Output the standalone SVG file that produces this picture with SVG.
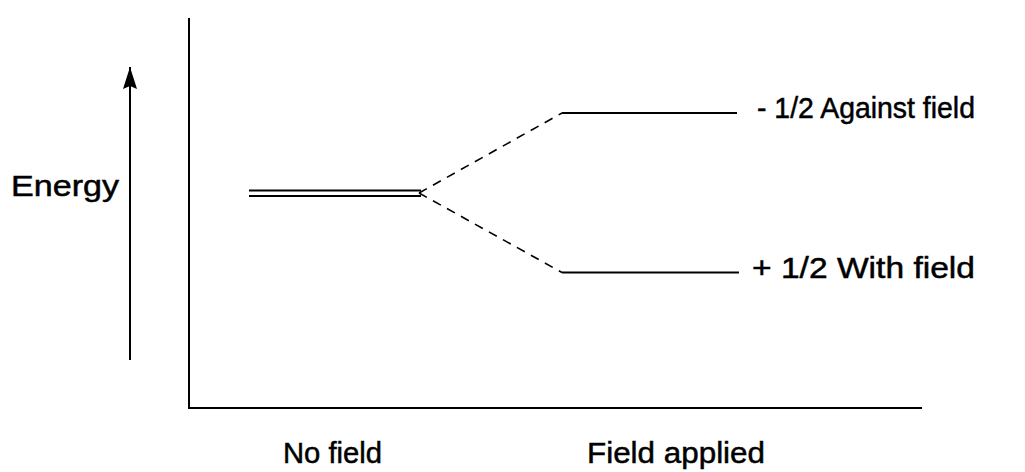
<svg xmlns="http://www.w3.org/2000/svg" width="1025" height="472" viewBox="0 0 1025 472">
  <style>
    .ax { stroke: #000; stroke-width: 2; fill: none; }
    .lvl { stroke: #000; stroke-width: 2; fill: none; }
    .dash { stroke: #000; stroke-width: 1.6; fill: none; stroke-dasharray: 9 7; }
    .lbl { font-family: "Liberation Sans", Arial, sans-serif; font-size: 30px; fill: #000; stroke: #000; stroke-width: 0.5; }
  </style>
  <defs>
    <!-- arrowhead drawn along +x; orient=auto turns it with the line -->
    <marker id="head" markerUnits="userSpaceOnUse" markerWidth="24" markerHeight="16" refX="22" refY="8" orient="auto" viewBox="0 0 24 16">
      <path d="M0 1 L22 8 L0 15 L3 8 Z" fill="#000"/>
    </marker>
  </defs>
  <rect width="1025" height="472" fill="#fff"/>

  <!-- axes -->
  <g id="axes">
    <path class="ax" d="M189 18 V408 H922"/>
  </g>

  <!-- energy arrow and label -->
  <g id="energy">
    <line x1="130" y1="360" x2="130" y2="67" stroke="#000" stroke-width="2" marker-end="url(#head)"/>
    <text class="lbl" x="11" y="196" font-size="31" textLength="108" lengthAdjust="spacingAndGlyphs">Energy</text>
  </g>

  <!-- degenerate level without field -->
  <g id="no-field-level">
    <line class="lvl" x1="249" y1="190.5" x2="421" y2="190.5"/>
    <line class="lvl" x1="249" y1="196" x2="421" y2="196" stroke-width="1.5"/>
  </g>

  <!-- split levels -->
  <g id="upper-level">
    <line class="lvl" x1="562" y1="113" x2="737" y2="113"/>
    <text class="lbl" x="757" y="118" textLength="218" lengthAdjust="spacingAndGlyphs">- 1/2 Against field</text>
  </g>
  <g id="lower-level">
    <line class="lvl" x1="562" y1="272.5" x2="739" y2="272.5"/>
    <text class="lbl" x="752" y="278" textLength="223" lengthAdjust="spacingAndGlyphs">+ 1/2 With field</text>
  </g>

  <!-- splitting connectors -->
  <g id="connectors">
    <line class="dash" x1="419" y1="193" x2="562" y2="113"/>
    <line class="dash" x1="419" y1="193" x2="562" y2="272.5"/>
  </g>

  <!-- axis labels -->
  <g id="x-labels">
    <text class="lbl" x="283" y="463" textLength="99" lengthAdjust="spacingAndGlyphs">No field</text>
    <text class="lbl" x="587" y="463" textLength="178" lengthAdjust="spacingAndGlyphs">Field applied</text>
  </g>
</svg>
